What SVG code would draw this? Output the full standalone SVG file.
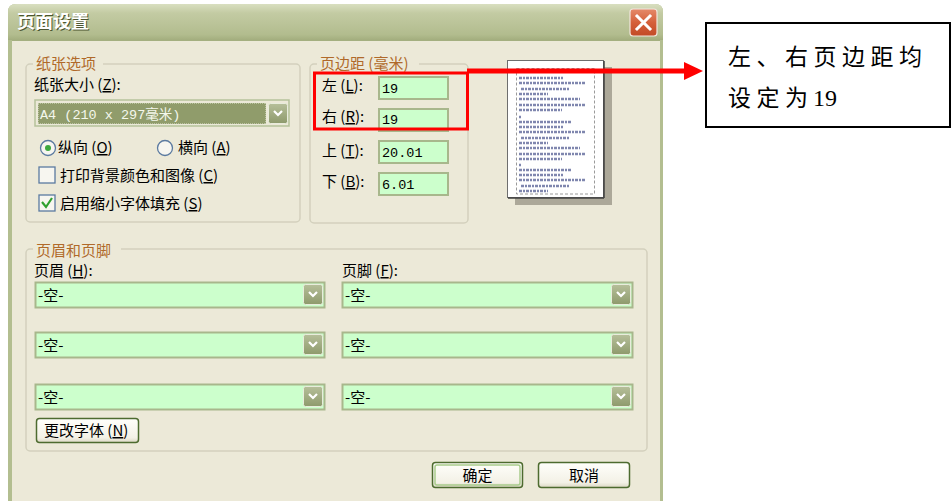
<svg xmlns="http://www.w3.org/2000/svg" width="952" height="501" viewBox="0 0 952 501">
<defs>
<linearGradient id="title" x1="0" y1="0" x2="0" y2="1">
<stop offset="0" stop-color="#D9DFC0"/>
<stop offset="0.25" stop-color="#C3CBA3"/>
<stop offset="0.85" stop-color="#B2BC8E"/>
<stop offset="1" stop-color="#A3AE7E"/>
</linearGradient>
<linearGradient id="dd" x1="0" y1="0" x2="0" y2="1">
<stop offset="0" stop-color="#B6BF9A"/>
<stop offset="1" stop-color="#8E9A6C"/>
</linearGradient>
<linearGradient id="btn" x1="0" y1="0" x2="0" y2="1">
<stop offset="0" stop-color="#FFFFFB"/>
<stop offset="0.8" stop-color="#F3F1E6"/>
<stop offset="1" stop-color="#DCD8C4"/>
</linearGradient>
<linearGradient id="close" x1="0" y1="0" x2="0" y2="1">
<stop offset="0" stop-color="#E58A6A"/>
<stop offset="0.5" stop-color="#D5603A"/>
<stop offset="1" stop-color="#C24A26"/>
</linearGradient>
<symbol id="chev" viewBox="0 0 20 21">
<rect x="0.5" y="0.5" width="19" height="20" rx="2" fill="url(#dd)" stroke="#E8ECDC" stroke-width="1"/>
<polyline points="6,8 10,12 14,8" fill="none" stroke="#FFFFFF" stroke-width="2.2"/>
</symbol>
</defs>
<style>
.t{font-family:"Noto Sans CJK SC","Liberation Sans",sans-serif;font-size:15px;fill:#000}
.glab{fill:#B0692A}
.grp{fill:none;stroke:#D3D0BD;stroke-width:1.5}
.gbg{fill:#ECE9D8}
.field{fill:#CCFFCC;stroke:#A8B78C;stroke-width:2}
.mono{font-family:"Liberation Mono","Noto Sans CJK SC",monospace;font-size:13.5px;fill:#000}
.btn{fill:url(#btn);stroke:#4D6B2F;stroke-width:1.5}
.ann{font-family:"Liberation Serif","Noto Sans CJK SC",serif;font-size:23px;fill:#000;letter-spacing:5.5px}
.pl{stroke:#7F86AE;stroke-width:2.4;stroke-dasharray:3 1 2 1}
</style>
<rect width="952" height="501" fill="#FFFFFF"/>

<g id="window">
<path d="M8,501 V12 Q8,4 16,4 H655 Q663,4 663,12 V501 Z" fill="#B3BE90"/>
<path d="M8,40 V12 Q8,4 16,4 H655 Q663,4 663,12 V40 Z" fill="url(#title)"/>
<rect x="12" y="40" width="648" height="461" fill="#ECE9D8"/>
<line x1="12" y1="40.5" x2="660" y2="40.5" stroke="#A4AF80" stroke-width="1"/>
<text x="18" y="29" class="t" style="font-size:18px;font-weight:bold;fill:#4B5530">页面设置</text>
<text x="17" y="28" class="t" style="font-size:18px;font-weight:bold;fill:#FFFFFF">页面设置</text>
</g>

<g id="close-button">
<rect x="630" y="9" width="27" height="27" rx="3" fill="url(#close)" stroke="#F2E6DE" stroke-width="1.2"/>
<path d="M637,16 L650,29 M650,16 L637,29" stroke="#FFFFFF" stroke-width="3" stroke-linecap="square"/>
</g>

<g id="paper-options">
<rect x="26" y="64" width="274" height="158" rx="4" class="grp"/>
<rect x="33" y="56" width="70" height="14" class="gbg"/>
<text x="36" y="69" class="t glab">纸张选项</text>
<text x="34" y="90" class="t">纸张大小 (<tspan text-decoration="underline">Z</tspan>):</text>
<g id="paper-size-combo">
<rect x="35" y="100" width="254" height="26" fill="#ECE9D8" stroke="#B5C29A" stroke-width="1.5"/>
<rect x="38" y="103" width="228" height="21" fill="#909C6B" stroke="#E6EBD8" stroke-width="1" stroke-dasharray="1 1"/>
<text x="40" y="119" class="mono" style="fill:#F4F7EC">A4 (210 x 297毫米)</text>
<use href="#chev" x="268" y="103" width="20" height="21"/>
</g>
<g id="portrait">
<circle cx="48" cy="148" r="7.5" fill="#F7F6F0" stroke="#5B7AA0" stroke-width="1.3"/>
<circle cx="48" cy="148" r="3" fill="#3DA83D"/>
<text x="58" y="153" class="t">纵向 (<tspan text-decoration="underline">O</tspan>)</text>
</g>
<g id="landscape">
<circle cx="165" cy="148" r="7.5" fill="#F7F6F0" stroke="#5B7AA0" stroke-width="1.3"/>
<text x="178" y="153" class="t">横向 (<tspan text-decoration="underline">A</tspan>)</text>
</g>
<g id="print-bg">
<rect x="39" y="167" width="16" height="16" fill="#F7F6F0" stroke="#5B7AA0" stroke-width="1.3"/>
<text x="60" y="181" class="t">打印背景颜色和图像 (<tspan text-decoration="underline">C</tspan>)</text>
</g>
<g id="shrink-fit">
<rect x="39" y="195" width="16" height="16" fill="#F7F6F0" stroke="#5B7AA0" stroke-width="1.3"/>
<polyline points="42,202 46,207 52,198" fill="none" stroke="#2FA02F" stroke-width="2.2"/>
<text x="60" y="209" class="t">启用缩小字体填充 (<tspan text-decoration="underline">S</tspan>)</text>
</g>
</g>

<g id="margins">
<rect x="310" y="64" width="158" height="159" rx="4" class="grp"/>
<rect x="317" y="56" width="102" height="14" class="gbg"/>
<text x="320" y="69" class="t glab">页边距 (毫米)</text>
<g id="left-margin">
<text x="322" y="91" class="t">左 (<tspan text-decoration="underline">L</tspan>):</text>
<rect x="379" y="77" width="69" height="22" class="field"/>
<text x="382" y="93" class="mono">19</text>
</g>
<g id="right-margin">
<text x="322" y="122" class="t">右 (<tspan text-decoration="underline">R</tspan>):</text>
<rect x="379" y="109" width="69" height="22" class="field"/>
<text x="382" y="124" class="mono">19</text>
</g>
<g id="top-margin">
<text x="322" y="156" class="t">上 (<tspan text-decoration="underline">T</tspan>):</text>
<rect x="379" y="141" width="69" height="22" class="field"/>
<text x="382" y="157" class="mono">20.01</text>
</g>
<g id="bottom-margin">
<text x="322" y="187" class="t">下 (<tspan text-decoration="underline">B</tspan>):</text>
<rect x="379" y="173" width="69" height="22" class="field"/>
<text x="382" y="189" class="mono">6.01</text>
</g>
</g>

<g id="preview">
<rect x="515" y="67" width="97" height="138" fill="#ACA899"/>
<rect x="507.5" y="60.5" width="96" height="137" fill="#FFFFFF" stroke="#6E6E6E" stroke-width="1"/>
<line x1="604" y1="61" x2="604" y2="198" stroke="#404040" stroke-width="1.5"/>
<line x1="508" y1="198" x2="604" y2="198" stroke="#404040" stroke-width="1.5"/>
<rect x="516.5" y="68.5" width="78" height="125.5" fill="none" stroke="#9A9A9A" stroke-width="1" stroke-dasharray="3 2"/>
<g class="pl">
<line x1="519" y1="78" x2="563" y2="78"/>
<line x1="519" y1="83" x2="585" y2="83"/>
<line x1="521" y1="89" x2="570" y2="89"/>
<line x1="519" y1="94" x2="548" y2="94"/>
<line x1="519" y1="99" x2="580" y2="99"/>
<line x1="519" y1="105" x2="585" y2="105"/>
<line x1="519" y1="110" x2="562" y2="110"/>
<line x1="519" y1="117" x2="521" y2="117"/>
<line x1="519" y1="122" x2="572" y2="122"/>
<line x1="519" y1="127" x2="563" y2="127"/>
<line x1="519" y1="132" x2="585" y2="132"/>
<line x1="521" y1="138" x2="570" y2="138"/>
<line x1="519" y1="143" x2="548" y2="143"/>
<line x1="519" y1="148" x2="580" y2="148"/>
<line x1="519" y1="154" x2="585" y2="154"/>
<line x1="519" y1="159" x2="562" y2="159"/>
<line x1="519" y1="165" x2="521" y2="165"/>
<line x1="519" y1="170" x2="572" y2="170"/>
<line x1="519" y1="175" x2="563" y2="175"/>
<line x1="519" y1="180" x2="585" y2="180"/>
<line x1="521" y1="186" x2="570" y2="186"/>
<line x1="519" y1="191" x2="548" y2="191"/>
</g>
</g>

<g id="header-footer">
<rect x="26" y="249" width="621" height="202" rx="4" class="grp"/>
<rect x="33" y="241" width="88" height="14" class="gbg"/>
<text x="36" y="256" class="t glab">页眉和页脚</text>
<text x="34" y="276" class="t">页眉 (<tspan text-decoration="underline">H</tspan>):</text>
<text x="342" y="276" class="t">页脚 (<tspan text-decoration="underline">F</tspan>):</text>
<g id="header-1">
<rect x="35.5" y="282.5" width="289" height="25" class="field"/>
<use href="#chev" x="303" y="284" width="20" height="21"/>
<text x="38" y="301" class="t">-空-</text>
</g>
<g id="header-2">
<rect x="35.5" y="332.5" width="289" height="25" class="field"/>
<use href="#chev" x="303" y="334" width="20" height="21"/>
<text x="38" y="351" class="t">-空-</text>
</g>
<g id="header-3">
<rect x="35.5" y="384.5" width="289" height="25" class="field"/>
<use href="#chev" x="303" y="386" width="20" height="21"/>
<text x="38" y="403" class="t">-空-</text>
</g>
<g id="footer-1">
<rect x="342.5" y="282.5" width="290" height="25" class="field"/>
<use href="#chev" x="611" y="284" width="20" height="21"/>
<text x="345" y="301" class="t">-空-</text>
</g>
<g id="footer-2">
<rect x="342.5" y="332.5" width="290" height="25" class="field"/>
<use href="#chev" x="611" y="334" width="20" height="21"/>
<text x="345" y="351" class="t">-空-</text>
</g>
<g id="footer-3">
<rect x="342.5" y="384.5" width="290" height="25" class="field"/>
<use href="#chev" x="611" y="386" width="20" height="21"/>
<text x="345" y="403" class="t">-空-</text>
</g>
<g id="change-font">
<rect x="36.5" y="418.5" width="102" height="24" rx="3" class="btn"/>
<text x="44" y="436" class="t">更改字体 (<tspan text-decoration="underline">N</tspan>)</text>
</g>
</g>

<g id="ok-button">
<rect x="432.5" y="462.5" width="90" height="25" rx="3" class="btn"/>
<rect x="435" y="465" width="85" height="20" rx="2" fill="none" stroke="#A9CC8C" stroke-width="1.5"/>
<text x="477.5" y="481" class="t" text-anchor="middle">确定</text>
</g>
<g id="cancel-button">
<rect x="538.5" y="462.5" width="91" height="25" rx="3" class="btn"/>
<text x="584" y="481" class="t" text-anchor="middle">取消</text>
</g>

<g id="highlight">
<rect x="314.5" y="73" width="153" height="56" fill="none" stroke="#FF0000" stroke-width="3"/>
</g>

<g id="connectors">
<line x1="467" y1="71" x2="687" y2="71" stroke="#FF0000" stroke-width="5"/>
<polygon points="684,62 703,71 684,80" fill="#FF0000"/>
</g>

<g id="annotation">
<rect x="706" y="23" width="244" height="104" fill="#FFFFFF" stroke="#000000" stroke-width="2"/>
<text x="728" y="65" class="ann">左、右页边距均</text>
<text x="728" y="106" class="ann">设定为<tspan x="813" style="letter-spacing:0;font-size:24px">19</tspan></text>
</g>
</svg>
